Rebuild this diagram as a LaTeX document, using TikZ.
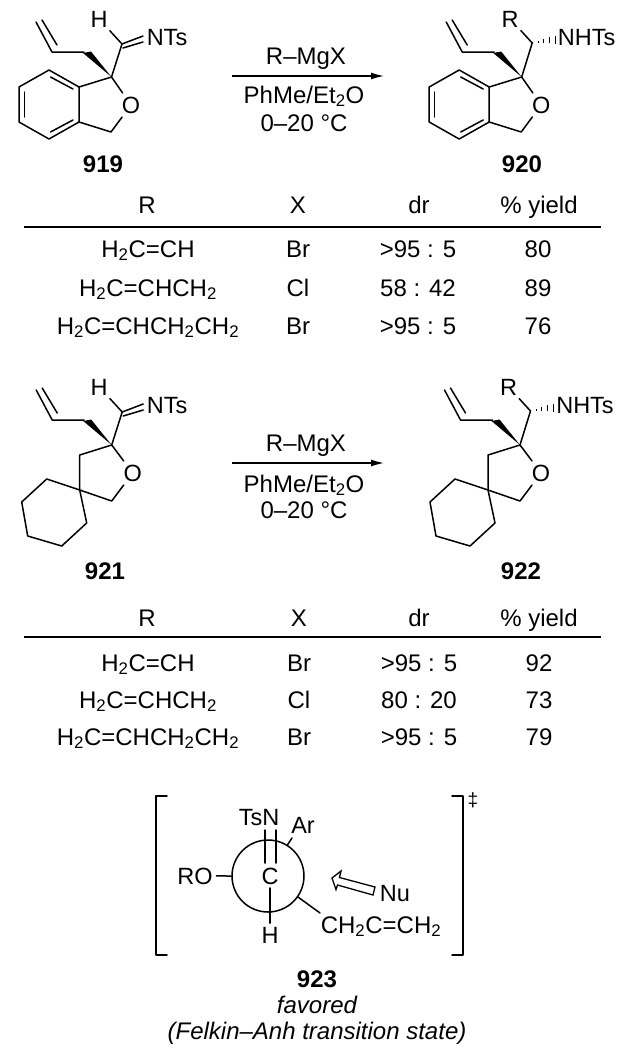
\documentclass[tikz,border=0pt]{standalone}
\usepackage{fontspec}
\setmainfont{Liberation Sans}
\usetikzlibrary{calc,arrows.meta}
\newcommand{\subs}[1]{\textsubscript{#1}}
\tikzset{
    bond/.style={line width=1.5pt,line cap=round,line join=round},
    atom/.style={inner sep=3.5pt,anchor=base,font=\fontsize{23.5}{27}\selectfont},
    txt/.style={inner sep=0pt,anchor=base,font=\fontsize{24}{27}\selectfont},
    cmpd/.style={txt,font=\fontsize{24}{27}\selectfont\bfseries},
    note/.style={txt,font=\fontsize{24}{27}\selectfont\itshape},
    allyl/.pic={
        \coordinate (-s) at (0,0);
        \coordinate (-c1) at (-27.5,-25);
        \coordinate (-c2) at (-59.5,-25);
        \coordinate (-c3) at (-75.5,-55);
        \coordinate (-d1) at (-54.5,-32);
        \coordinate (-d2) at (-69.5,-57);
        \coordinate (-w1) at (-28.5,-24);
        \coordinate (-w2) at (-20.5,-25.5);
        \fill (-s) -- (-w1) -- (-w2) -- cycle;
        \draw[bond] (-c1) -- (-c2) -- (-c3);
        \draw[bond] (-d1) -- (-d2);
    },
    imine/.pic={
        \coordinate (-s) at (0,0);
        \coordinate (-ch) at (10.5,-33);
        \coordinate (-ch2) at (11.5,-29);
        \coordinate (-n1) at (31.5,-41);
        \coordinate (-n2) at (31.5,-35);
        \node[atom] (-h) at (-12.5,-50) {H};
        \node[atom] (-nts) at (55.5,-32) {NTs};
        \draw[bond] (-s) -- (-ch) -- (-h);
        \draw[bond] (-ch) -- (-n1);
        \draw[bond] (-ch2) -- (-n2);
    },
    amine/.pic={
        \coordinate (-s) at (0,0);
        \coordinate (-ch) at (10.5,-34);
        \node[atom] (-r) at (-11.5,-50) {R};
        \node[atom] (-nhts) at (65,-32) {NHTs};
        \draw[bond] (-s) -- (-ch) -- (-r);
        \foreach \d/\h in {6/2,11/4,17/6,23/8}
        \draw[line width=1pt,shift={(-ch)}] (\d,-\d*0.15+\h*0.5) -- (\d,-\d*0.15-\h*0.5);
    },
    benzo/.pic={
        \coordinate (-s) at (0,0);
        \coordinate (-b1) at (-32.5,10);
        \coordinate (-b2) at (-62.5,-7);
        \coordinate (-b3) at (-92.5,10);
        \coordinate (-b4) at (-92.5,45);
        \coordinate (-b5) at (-62.5,62);
        \coordinate (-b6) at (-32.5,45);
        \coordinate (-m) at (-0.5,55);
        \node[atom,anchor=center] (-o) at (19.5,28) {O};
        \draw[bond] (-b1) -- (-b2) -- (-b3) -- (-b4) -- (-b5) -- (-b6) -- cycle;
        \draw[bond] (-87,15) -- (-87,40);
        \draw[bond] (-61,0) -- (-38.5,12);
        \draw[bond] (-61,55) -- (-38.5,43);
        \draw[bond] (-b1) -- (-s) -- (-o) -- (-m) -- (-b6);
    },
    spiro/.pic={
        \coordinate (-s) at (0,0);
        \coordinate (-a) at (-32,10);
        \coordinate (-q) at (-32,45);
        \coordinate (-m) at (0,56);
        \coordinate (-e1) at (-65,34);
        \coordinate (-e2) at (-90,57);
        \coordinate (-e3) at (-84,91);
        \coordinate (-e4) at (-50,101);
        \coordinate (-e5) at (-25,78);
        \node[atom,anchor=center] (-o) at (21,28) {O};
        \draw[bond] (-q) -- (-e1) -- (-e2) -- (-e3) -- (-e4) -- (-e5) -- cycle;
        \draw[bond] (-s) -- (-a) -- (-q) -- (-m) -- (-o) -- (-s);
    },
}
\begin{document}
\begin{tikzpicture}[x=1pt,y=-1pt]
    \useasboundingbox (0,0) rectangle (623,1050);
    % first reaction
    \pic (ma) at (111.5,77) {allyl};
    \pic (ia) at (111.5,77) {imine};
    \pic (ba) at (111.5,77) {benzo};
    \pic (mb) at (521.7,77) {allyl};
    \pic (ab) at (521.7,77) {amine};
    \pic (bb) at (521.7,77) {benzo};
    \node[cmpd] (l919) at (103,172) {919};
    \node[cmpd] (l920) at (522,172) {920};
    \coordinate (arra) at (232,76);
    \coordinate (arrb) at (384,76);
    \draw[line width=1.4pt,-{Latex[length=13pt,width=7pt]}] (arra) -- (arrb);
    \node[txt] (ra) at (306,64) {R--MgX};
    \node[txt] (sa) at (304,103) {PhMe/Et\subs{2}O};
    \node[txt] (ta) at (304,131) {0--20 °C};
    % first table
    \node[txt] (ha1) at (147,213) {R};
    \node[txt] (ha2) at (298,213) {X};
    \node[txt] (ha3) at (419,213) {dr};
    \node[txt] (ha4) at (539,213) {\% yield};
    \draw[line width=1.4pt] (24,227) -- (601,227);
    \foreach \y/\r/\z/\d/\p [count=\i] in {
        257/{H\subs{2}C=CH}/Br/{>95 : 5}/80,
        296/{H\subs{2}C=CHCH\subs{2}}/Cl/{58 : 42}/89,
        334/{H\subs{2}C=CHCH\subs{2}CH\subs{2}}/Br/{>95 : 5}/76}
    {
        \node[txt] (ra\i) at (148,\y) {\r};
        \node[txt] (xa\i) at (298,\y) {\z};
        \node[txt] (da\i) at (418,\y) {\d};
        \node[txt] (ya\i) at (538,\y) {\p};
    }
    % second reaction
    \pic (mc) at (111.7,445) {allyl};
    \pic (ic) at (111.7,445) {imine};
    \pic (bc) at (111.7,445) {spiro};
    \pic (md) at (520,445) {allyl};
    \pic (ad) at (520,445) {amine};
    \pic (bd) at (520,445) {spiro};
    \node[cmpd] (l921) at (105,579) {921};
    \node[cmpd] (l922) at (521,579) {922};
    \coordinate (arrc) at (232,463);
    \coordinate (arrd) at (384,463);
    \draw[line width=1.4pt,-{Latex[length=13pt,width=7pt]}] (arrc) -- (arrd);
    \node[txt] (rb) at (306,451) {R--MgX};
    \node[txt] (sb) at (304,492) {PhMe/Et\subs{2}O};
    \node[txt] (tb) at (304,518) {0--20 °C};
    % second table
    \node[txt] (hb1) at (147,626) {R};
    \node[txt] (hb2) at (299,626) {X};
    \node[txt] (hb3) at (419,626) {dr};
    \node[txt] (hb4) at (539,626) {\% yield};
    \draw[line width=1.4pt] (24,637) -- (601,637);
    \foreach \y/\r/\z/\d/\p [count=\i] in {
        671/{H\subs{2}C=CH}/Br/{>95 : 5}/92,
        708/{H\subs{2}C=CHCH\subs{2}}/Cl/{80 : 20}/73,
        745/{H\subs{2}C=CHCH\subs{2}CH\subs{2}}/Br/{>95 : 5}/79}
    {
        \node[txt] (rb\i) at (148,\y) {\r};
        \node[txt] (xb\i) at (299,\y) {\z};
        \node[txt] (db\i) at (419,\y) {\d};
        \node[txt] (yb\i) at (539,\y) {\p};
    }
    % transition state
    \draw[bond] (167,796) -- (156,796) -- (156,955) -- (167,955);
    \draw[bond] (452,796) -- (463,796) -- (463,955) -- (452,955);
    \node[txt,font=\fontsize{19}{21}\selectfont] (dag) at (473,806) {‡};
    \node[circle,draw,line width=1.5pt,minimum size=72pt,inner sep=0pt] (newman) at (268,876) {};
    \node[atom] (tsn) at (259,825) {TsN};
    \node[atom] (ar) at (303,833) {Ar};
    \node[atom] (ro) at (195,884) {RO};
    \node[atom] (cc) at (270,884) {C};
    \node[atom] (hh) at (270,943) {H};
    \node[atom] (nu) at (395,901) {Nu};
    \node[txt] (chain) at (381,933) {CH\subs{2}C=CH\subs{2}};
    \coordinate (db1) at (265,830);
    \coordinate (db2) at (265,863);
    \coordinate (db3) at (276,830);
    \coordinate (db4) at (276,863);
    \coordinate (arend) at (292,838);
    \coordinate (chend) at (320,913);
    \draw[bond] (db1) -- (db2);
    \draw[bond] (db3) -- (db4);
    \draw[bond] (newman.58) -- (arend);
    \draw[bond] (newman.west) -- (ro);
    \draw[bond] (cc) -- (hh);
    \draw[bond] (newman.-35) -- (chend);
    \draw[line width=1.3pt,line join=miter] (332,878) -- (341,871) -- (339.5,877.5) -- (375,887) -- (373,895)
        -- (337.5,885) -- (336,889.5) -- cycle;
    \node[cmpd] (l923) at (317,987) {923};
    \node[note] (fav) at (317,1013) {favored};
    \node[note] (fa) at (317,1039) {(Felkin--Anh transition state)};
\end{tikzpicture}
\end{document}
